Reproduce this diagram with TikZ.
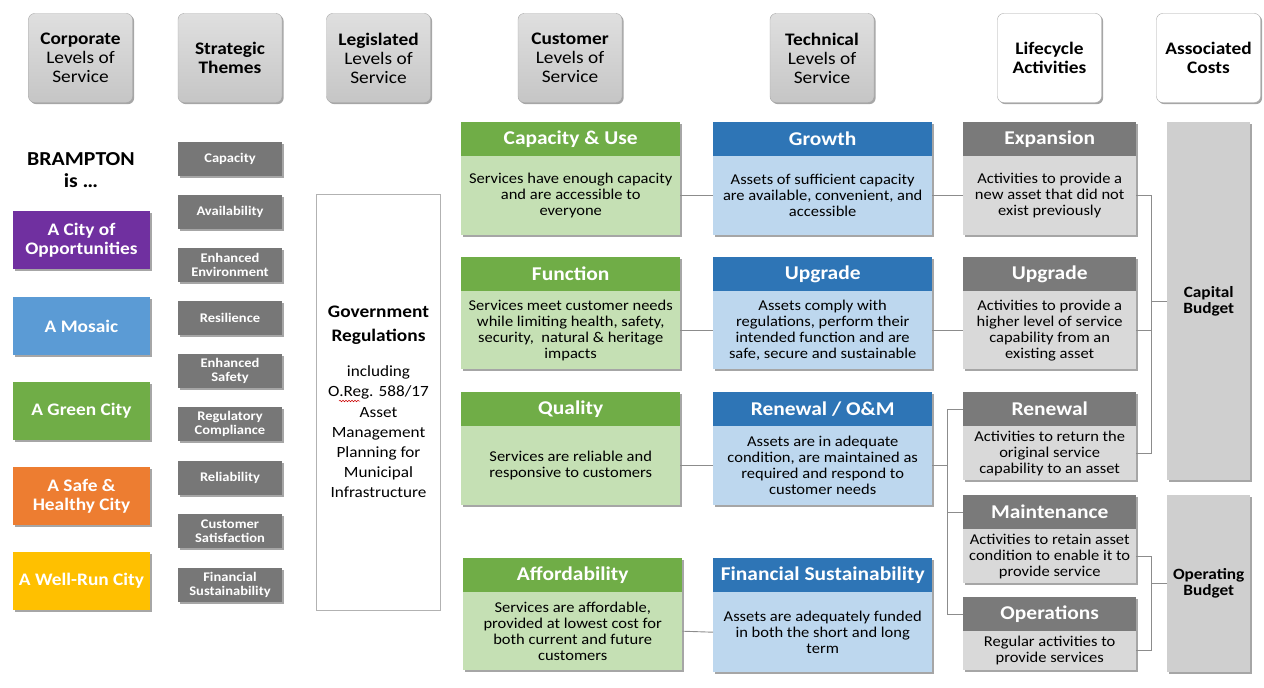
\documentclass[tikz,border=0pt]{standalone}
\usepackage{fontspec}
\setmainfont{Carlito}[FakeStretch=1.1]
\usetikzlibrary{shadows,decorations.pathmorphing}
\definecolor{cpurple}{HTML}{7030A0}
\definecolor{cblue}{HTML}{5B9BD5}
\definecolor{cgreen}{HTML}{70AD47}
\definecolor{corange}{HTML}{ED7D31}
\definecolor{cyellow}{HTML}{FFC000}
\definecolor{themegray}{HTML}{777777}
\definecolor{custh}{HTML}{70AD47}
\definecolor{custb}{HTML}{C5E0B4}
\definecolor{techh}{HTML}{2E75B6}
\definecolor{techb}{HTML}{BDD7EE}
\definecolor{lifeh}{HTML}{7A7A7A}
\definecolor{lifeb}{HTML}{D9D9D9}
\definecolor{costb}{HTML}{CFCFCF}
\definecolor{linec}{HTML}{8C8C8C}
\tikzset{
  shd/.style={drop shadow={shadow xshift=1.6pt,shadow yshift=-1.6pt,opacity=0.35,fill=black}},
  hdr/.style={shd,rounded corners=6pt,draw=gray!70,top color=gray!25,bottom color=gray!45,minimum width=104pt,minimum height=89pt,align=center,font=\fontsize{17.6}{19}\selectfont,inner sep=0pt},
  hdrw/.style={hdr,top color=white,bottom color=white},
  city/.style={shd,minimum width=137pt,minimum height=58pt,align=center,text=white,font=\fontsize{17.6}{19}\selectfont\bfseries,inner sep=0pt},
  theme/.style={shd,fill=themegray,minimum width=104pt,minimum height=34pt,align=center,text=white,font=\fontsize{13.2}{14}\selectfont\bfseries,inner sep=0pt},
  boxh/.style={shd,minimum height=34pt,inner sep=0pt,text=white,font=\fontsize{19.5}{21}\selectfont\bfseries,anchor=north west},
  boxb/.style={shd,inner sep=0pt,align=center,font=\fontsize{15}{16}\selectfont,anchor=north west},
  cust-h/.style={boxh,fill=custh},cust-b/.style={boxb,fill=custb},
  tech-h/.style={boxh,fill=techh},tech-b/.style={boxb,fill=techb},
  life-h/.style={boxh,fill=lifeh},life-b/.style={boxb,fill=lifeb},
  cost/.style={shd,fill=costb,minimum width=83pt,inner sep=0pt,align=center,font=\fontsize{15.7}{16}\selectfont\bfseries,anchor=north west},
  conn/.style={draw=linec,line width=0.9pt}
}
% #1 name, #2 x, #3 y top, #4 width, #5 body height, #6 style prefix, #7 title, #8 body
\newcommand\twobox[8]{%
  \node[#6-h,minimum width=#4pt] (#1-h) at (#2,#3) {#7};
  \node[#6-b,minimum width=#4pt,minimum height=#5pt] (#1-b) at (#2,#3+34) {#8};
}
\begin{document}
\begin{tikzpicture}[x=1pt,y=-1pt]
\path[use as bounding box] (0,0) rectangle (1264,688);

% column headers
\node[hdr] (hcorp) at (80.5,58) {\textbf{Corporate}\\Levels of\\Service};
\node[hdr] (hstrat) at (230,58) {\textbf{Strategic}\\\textbf{Themes}};
\node[hdr] (hleg) at (378.5,58) {\textbf{Legislated}\\Levels of\\Service};
\node[hdr] (hcust) at (570,58) {\textbf{Customer}\\Levels of\\Service};
\node[hdr] (htech) at (822,58) {\textbf{Technical}\\Levels of\\Service};
\node[hdrw] (hlife) at (1049.5,58) {\textbf{Lifecycle}\\\textbf{Activities}};
\node[hdrw] (hcost) at (1208.5,58) {\textbf{Associated}\\\textbf{Costs}};

% corporate
\node[align=center,font=\fontsize{19.8}{22}\selectfont\bfseries] (bramp) at (81,170) {BRAMPTON\\is \dots};
\node[city,fill=cpurple] (c1) at (81.5,240) {A City of\\Opportunities};
\node[city,fill=cblue] (c2) at (81.5,326) {A Mosaic};
\node[city,fill=cgreen] (c3) at (81.5,411) {A Green City};
\node[city,fill=corange] (c4) at (81.5,496) {A Safe \&\\Healthy City};
\node[city,fill=cyellow] (c5) at (81.5,581) {A Well-Run City};

% strategic themes
\node[theme] (t1) at (230,159) {Capacity};
\node[theme] (t2) at (230,212) {Availability};
\node[theme] (t3) at (230,265) {Enhanced\\Environment};
\node[theme] (t4) at (230,318) {Resilience};
\node[theme] (t5) at (230,371) {Enhanced\\Safety};
\node[theme] (t6) at (230,424) {Regulatory\\Compliance};
\node[theme] (t7) at (230,478) {Reliability};
\node[theme] (t8) at (230,531) {Customer\\Satisfaction};
\node[theme] (t9) at (230,585) {Financial\\Sustainability};

% legislated
\node[draw=gray!60,fill=white,line width=0.8pt,minimum width=124pt,minimum height=416pt,inner sep=0pt] (gov) at (378.5,402) {};
\node[align=center,font=\fontsize{17.6}{24}\selectfont\bfseries] (govt) at (378.5,325) {Government\\Regulations};
\node[align=center,font=\fontsize{15.6}{20.2}\selectfont] (govs) at (378.5,432) {including\\O.Reg. 588/17\\Asset\\Management\\Planning for\\Municipal\\Infrastructure};
\draw[red!80!black,line width=0.5pt,decorate,decoration={snake,amplitude=0.8pt,segment length=3pt}] (339,401) -- (360,401);

% customer levels
\twobox{cap}{461}{122}{219}{79}{cust}{Capacity \& Use}{Services have enough capacity\\and are accessible to\\everyone}
\twobox{func}{461}{257}{219}{78}{cust}{Function}{Services meet customer needs\\while limiting health, safety,\\security,\ \ natural \& heritage\\impacts}
\twobox{qual}{461}{392}{219}{79}{cust}{Quality}{Services are reliable and\\responsive to customers}
\twobox{aff}{463}{558}{219}{78}{cust}{Affordability}{Services are affordable,\\provided at lowest cost for\\both current and future\\customers}

% technical levels
\twobox{grow}{713}{122}{219}{79}{tech}{Growth}{Assets of sufficient capacity\\are available, convenient, and\\accessible}
\twobox{upgT}{713}{257}{219}{78}{tech}{Upgrade}{Assets comply with\\regulations, perform their\\intended function and are\\safe, secure and sustainable}
\twobox{renom}{713}{392}{219}{79}{tech}{Renewal / O\&M}{Assets are in adequate\\condition, are maintained as\\required and respond to\\customer needs}
\twobox{fins}{713}{558}{219}{80}{tech}{Financial Sustainability}{Assets are adequately funded\\in both the short and long\\term}

% lifecycle activities
\twobox{exp}{963}{122}{173}{79}{life}{Expansion}{Activities to provide a\\new asset that did not\\exist previously}
\twobox{upgL}{963}{257}{173}{78}{life}{Upgrade}{Activities to provide a\\higher level of service\\capability from an\\existing asset}
\twobox{ren}{963}{392}{173}{54}{life}{Renewal}{Activities to return the\\original service\\capability to an asset}
\twobox{mnt}{963}{495}{173}{54}{life}{Maintenance}{Activities to retain asset\\condition to enable it to\\provide service}
\twobox{ops}{963}{597}{173}{39}{life}{Operations}{Regular activities to\\provide services}

% associated costs
\node[cost,minimum height=358pt] (capb) at (1167,122) {Capital\\Budget};
\node[cost,minimum height=177pt] (opb) at (1167,495) {Operating\\Budget};

% connectors customer -> technical -> lifecycle
\draw[conn] (cap-b.east) -- (grow-b.west);
\draw[conn] (func-b.east) -- (upgT-b.west);
\draw[conn] (qual-b.east) -- (renom-b.west);
\draw[conn] (aff-b.east) -- (fins-b.west);
\draw[conn] (grow-b.east) -- (exp-b.west);
\draw[conn] (upgT-b.east) -- (upgL-b.west);

\coordinate (brA) at ([xshift=-16pt]ren-h.west);
\draw[conn] (ren-h.west) -- (brA) |- (ops-h.west);
\draw[conn] (mnt-h.west) -- (mnt-h.west -| brA);
\draw[conn] (renom-b.east) -- (renom-b.east -| brA);

\coordinate (brC) at ([xshift=15pt]exp-b.east);
\draw[conn] (exp-b.east) -- (brC) |- (ren-b.east);
\draw[conn] (upgL-b.east) -- (upgL-b.east -| brC);
\draw[conn] (capb.west) -- (capb.west -| brC);

\coordinate (brO) at ([xshift=15pt]mnt-b.east);
\draw[conn] (mnt-b.east) -- (brO) |- (ops-b.east);
\draw[conn] (opb.west) -- (opb.west -| brO);
\end{tikzpicture}
\end{document}
